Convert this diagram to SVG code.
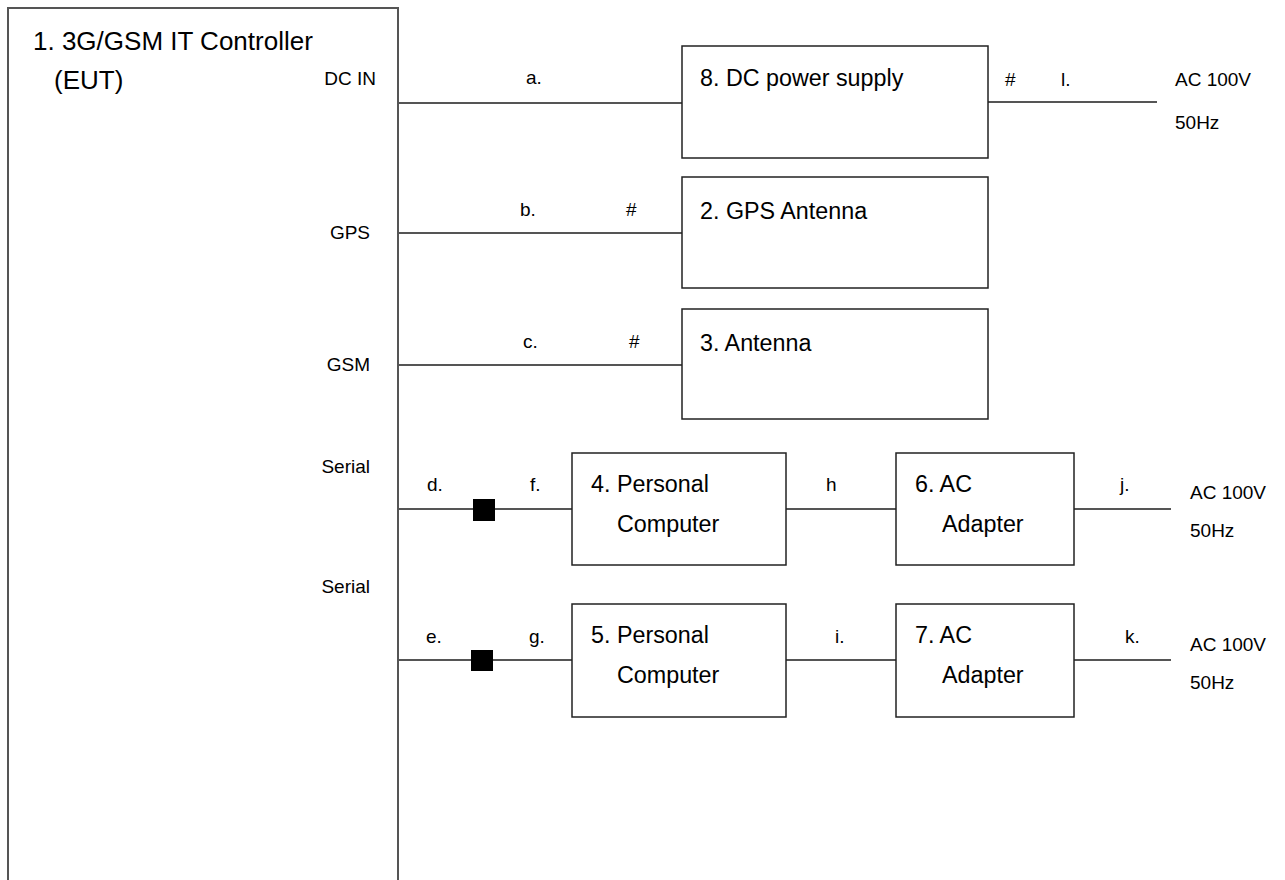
<svg xmlns="http://www.w3.org/2000/svg" width="1285" height="880" viewBox="0 0 1285 880">
<style>
  text { font-family: "Liberation Sans", Arial, sans-serif; fill: #000; }
  .big { font-size: 26px; }
  .node { font-size: 23.3px; }
  .lbl { font-size: 19px; }
  .box { fill: #fff; stroke: #222; stroke-width: 1.5; }
  .eut { fill: #fff; stroke: #555; stroke-width: 2; }
  .wire { stroke: #555; stroke-width: 2; fill: none; }
  .ferrite { fill: #000; }
</style>
<rect width="1285" height="880" fill="#fff"/>
<g id="eut">
  <rect class="eut" x="8" y="8" width="390" height="900"/>
  <text class="big" x="33" y="50">1. 3G/GSM IT Controller</text>
  <text class="big" x="54" y="89">(EUT)</text>
  <text class="lbl" x="376" y="85" text-anchor="end">DC IN</text>
  <text class="lbl" x="370" y="239" text-anchor="end">GPS</text>
  <text class="lbl" x="370" y="371" text-anchor="end">GSM</text>
  <text class="lbl" x="370" y="473" text-anchor="end">Serial</text>
  <text class="lbl" x="370" y="593" text-anchor="end">Serial</text>
</g>
<g id="connectors">
  <line class="wire" x1="398" y1="103" x2="682" y2="103"/>
  <line class="wire" x1="988" y1="102" x2="1157" y2="102"/>
  <line class="wire" x1="398" y1="233" x2="682" y2="233"/>
  <line class="wire" x1="398" y1="365" x2="682" y2="365"/>
  <line class="wire" x1="398" y1="509" x2="572" y2="509"/>
  <line class="wire" x1="786" y1="509" x2="896" y2="509"/>
  <line class="wire" x1="1074" y1="509" x2="1171" y2="509"/>
  <line class="wire" x1="398" y1="660" x2="572" y2="660"/>
  <line class="wire" x1="786" y1="660" x2="896" y2="660"/>
  <line class="wire" x1="1074" y1="660" x2="1171" y2="660"/>
  <rect class="ferrite" x="473" y="499" width="22" height="22"/>
  <rect class="ferrite" x="471" y="650" width="22" height="21"/>
  <text class="lbl" x="526" y="84">a.</text>
  <text class="lbl" x="1005" y="86">#</text>
  <text class="lbl" x="1061" y="86">l.</text>
  <text class="lbl" x="520" y="216">b.</text>
  <text class="lbl" x="626" y="216">#</text>
  <text class="lbl" x="523" y="348">c.</text>
  <text class="lbl" x="629" y="348">#</text>
  <text class="lbl" x="427" y="491">d.</text>
  <text class="lbl" x="530" y="491">f.</text>
  <text class="lbl" x="426" y="643">e.</text>
  <text class="lbl" x="529" y="643">g.</text>
  <text class="lbl" x="826" y="491">h</text>
  <text class="lbl" x="835" y="643">i.</text>
  <text class="lbl" x="1120" y="491">j.</text>
  <text class="lbl" x="1125" y="643">k.</text>
</g>
<g id="n8">
  <rect class="box" x="682" y="46" width="306" height="112"/>
  <text class="node" x="700" y="86">8. DC power supply</text>
</g>
<g id="ac1">
  <text class="lbl" x="1175" y="86">AC 100V</text>
  <text class="lbl" x="1175" y="129">50Hz</text>
</g>
<g id="n2">
  <rect class="box" x="682" y="177" width="306" height="111"/>
  <text class="node" x="700" y="219">2. GPS Antenna</text>
</g>
<g id="n3">
  <rect class="box" x="682" y="309" width="306" height="110"/>
  <text class="node" x="700" y="351">3. Antenna</text>
</g>
<g id="n4">
  <rect class="box" x="572" y="453" width="214" height="112"/>
  <text class="node" x="591" y="492">4. Personal</text>
  <text class="node" x="617" y="532">Computer</text>
</g>
<g id="n6">
  <rect class="box" x="896" y="453" width="178" height="112"/>
  <text class="node" x="915" y="492">6. AC</text>
  <text class="node" x="942" y="532">Adapter</text>
</g>
<g id="ac2">
  <text class="lbl" x="1190" y="499">AC 100V</text>
  <text class="lbl" x="1190" y="537">50Hz</text>
</g>
<g id="n5">
  <rect class="box" x="572" y="604" width="214" height="113"/>
  <text class="node" x="591" y="643">5. Personal</text>
  <text class="node" x="617" y="683">Computer</text>
</g>
<g id="n7">
  <rect class="box" x="896" y="604" width="178" height="113"/>
  <text class="node" x="915" y="643">7. AC</text>
  <text class="node" x="942" y="683">Adapter</text>
</g>
<g id="ac3">
  <text class="lbl" x="1190" y="651">AC 100V</text>
  <text class="lbl" x="1190" y="689">50Hz</text>
</g>
</svg>
